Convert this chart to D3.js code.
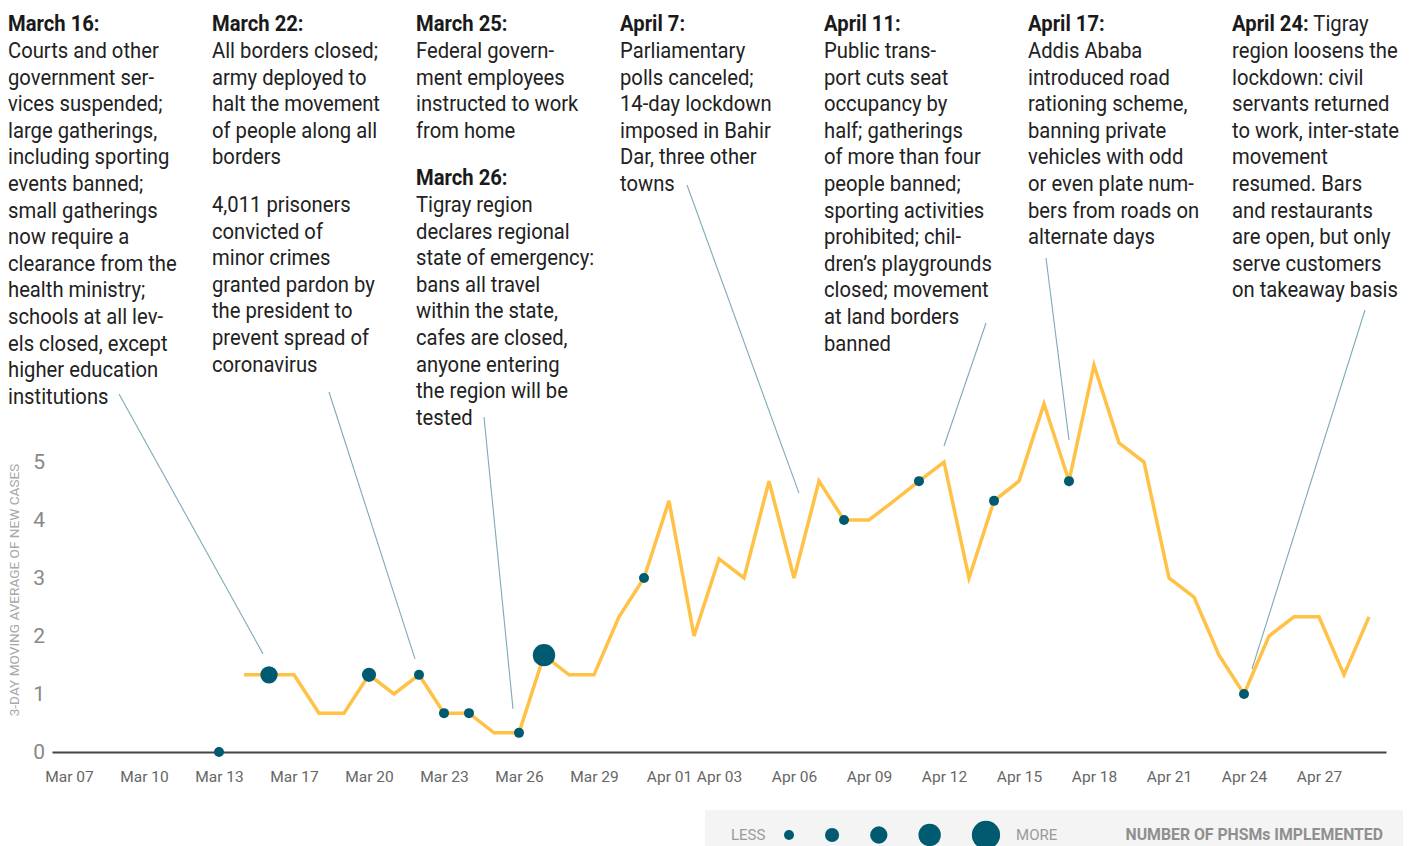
<!DOCTYPE html>
<html>
<head>
<meta charset="utf-8">
<script src="https://cdn.jsdelivr.net/npm/d3@7"></script>
<style>
  html, body { margin: 0; padding: 0; background: #fff; }
  svg { display: block; font-family: Roboto, "Noto Sans", sans-serif; }
</style>
</head>
<body>
<svg id="chart" width="1418" height="846"></svg>
<script>
// ---------------- DATA ----------------
const dates = [
  "Mar 07","Mar 08","Mar 09","Mar 10","Mar 11","Mar 12","Mar 13",
  "Mar 15","Mar 16","Mar 17","Mar 18","Mar 19","Mar 20","Mar 21","Mar 22","Mar 23","Mar 24",
  "Mar 25","Mar 26","Mar 27","Mar 28","Mar 29","Mar 30","Mar 31",
  "Apr 01","Apr 02","Apr 03","Apr 04","Apr 05","Apr 06","Apr 07","Apr 08","Apr 09","Apr 10",
  "Apr 11","Apr 12","Apr 13","Apr 14","Apr 15","Apr 16","Apr 17","Apr 18","Apr 19","Apr 20",
  "Apr 21","Apr 22","Apr 23","Apr 24","Apr 25","Apr 26","Apr 27","Apr 28","Apr 29"
];
const movingAvg = [
  null, null, null, null, null, null, null,
  1.33, 1.33, 1.33, 0.67, 0.67, 1.33, 1.0, 1.33, 0.67, 0.67,
  0.33, 0.33, 1.67, 1.33, 1.33, 2.33, 3.0,
  4.33, 2.0, 3.33, 3.0, 4.67, 3.0, 4.67, 4.0, 4.0, 4.33,
  4.67, 5.0, 3.0, 4.33, 4.67, 6.0, 4.67, 6.67, 5.33, 5.0,
  3.0, 2.67, 1.67, 1.0, 2.0, 2.33, 2.33, 1.33, 2.33
];
const measureDates  = ["Mar 13","Mar 16","Mar 20","Mar 22","Mar 23","Mar 24","Mar 26","Mar 27","Mar 31","Apr 08","Apr 11","Apr 14","Apr 17","Apr 24"];
const measureCounts = [1, 3, 2, 1, 1, 1, 1, 5, 1, 1, 1, 1, 1, 1];
const legendCounts  = [1, 2, 3, 5, 8];
const xTickLabels = ["Mar 07","Mar 10","Mar 13","Mar 17","Mar 20","Mar 23","Mar 26","Mar 29",
  "Apr 01","Apr 03","Apr 06","Apr 09","Apr 12","Apr 15","Apr 18","Apr 21","Apr 24","Apr 27"];
const yTickValues = [0, 1, 2, 3, 4, 5];
const yTitle = "3-DAY MOVING AVERAGE OF NEW CASES";

// annotation texts: each column holds paragraphs {head, lines}
const annotations = [
  { paras: [ { head: "March 16:", lines: ["Courts and other","government ser-","vices suspended;","large gatherings,","including sporting","events banned;","small gatherings","now require a","clearance from the","health ministry;","schools at all lev-","els closed, except","higher education","institutions"] } ] },
  { paras: [ { head: "March 22:", lines: ["All borders closed;","army deployed to","halt the movement","of people along all","borders"] },
             { head: null, lines: ["4,011 prisoners","convicted of","minor crimes","granted pardon by","the president to","prevent spread of","coronavirus"] } ] },
  { paras: [ { head: "March 25:", lines: ["Federal govern-","ment employees","instructed to work","from home"] },
             { head: "March 26:", lines: ["Tigray region","declares regional","state of emergency:","bans all travel","within the state,","cafes are closed,","anyone entering","the region will be","tested"] } ] },
  { paras: [ { head: "April 7:", lines: ["Parliamentary","polls canceled;","14-day lockdown","imposed in Bahir","Dar, three other","towns"] } ] },
  { paras: [ { head: "April 11:", lines: ["Public trans-","port cuts seat","occupancy by","half; gatherings","of more than four","people banned;","sporting activities","prohibited; chil-","dren\u2019s playgrounds","closed; movement","at land borders","banned"] } ] },
  { paras: [ { head: "April 17:", lines: ["Addis Ababa","introduced road","rationing scheme,","banning private","vehicles with odd","or even plate num-","bers from roads on","alternate days"] } ] },
  { paras: [ { head: "April 24:", inline: " Tigray", lines: ["region loosens the","lockdown: civil","servants returned","to work, inter-state","movement","resumed. Bars","and restaurants","are open, but only","serve customers","on takeaway basis"] } ] }
];

// leader lines: anchored on a date/value, top end at the annotation text
const leaders = [
  { date: "Mar 16", dx: -6,  dy: -21, top: [119, 394] },
  { date: "Mar 22", dx: -4,  dy: -16, top: [329, 392] },
  { date: "Mar 26", dx: -6,  dy: -24, top: [484, 417] },
  { date: "Apr 07", dx: -20, dy: 12,  top: [687, 185] },
  { date: "Apr 12", dx: 0,   dy: -16, top: [986, 323] },
  { date: "Apr 17", dx: 0,   dy: -41, top: [1046, 258] },
  { date: "Apr 24", dx: 8,   dy: -25, top: [1365, 310] }
];

// ---------------- LAYOUT ----------------
const svg = d3.select("#chart");
const LINE_COLOR = "#FFC247";
const DOT_COLOR = "#005B70";
const LEADER_COLOR = "#7eaab8";

const x = d3.scalePoint().domain(dates).range([52, 1386]).padding(0.68);
const y = d3.scaleLinear().domain([0, 5]).range([752, 462]);
const r = d3.scaleSqrt().domain([0, 1]).range([0, 5]);

const valueOf = d => movingAvg[dates.indexOf(d)];

// leader lines
svg.append("g").selectAll("line").data(leaders).join("line")
  .attr("x1", d => d.top[0]).attr("y1", d => d.top[1])
  .attr("x2", d => x(d.date) + d.dx).attr("y2", d => y(valueOf(d.date)) + d.dy)
  .attr("stroke", LEADER_COLOR).attr("stroke-width", 1.1);

// annotation text
const colX0 = 8, colStep = 204, lineH = 26.6, paraGap = 21, firstBase = 31.5, hScale = 0.92;
annotations.forEach((a, i) => {
  const g = svg.append("g")
    .attr("transform", `translate(${colX0 + i * colStep},0) scale(${hScale},1)`);
  let base = firstBase;
  a.paras.forEach((p, pi) => {
    if (pi > 0) base += paraGap;
    if (p.head) {
      const t = g.append("text").attr("x", 0).attr("y", base)
        .attr("font-size", 22).attr("fill", "#1a1a1a");
      t.append("tspan").attr("font-weight", 700).text(p.head);
      if (p.inline) t.append("tspan").attr("font-weight", 400).attr("fill", "#222").text(p.inline);
      base += lineH;
    }
    p.lines.forEach(l => {
      g.append("text").attr("x", 0).attr("y", base)
        .attr("font-size", 22).attr("fill", "#222").text(l);
      base += lineH;
    });
  });
});

// x axis
const xAxis = svg.append("g").attr("transform", "translate(0,752)")
  .call(d3.axisBottom(x).tickValues(xTickLabels).tickSize(0).tickSizeOuter(0).tickPadding(19));
xAxis.select(".domain").attr("stroke", "#444").attr("stroke-width", 2);
xAxis.selectAll("text").attr("font-size", 15.5).attr("fill", "#666")
  .attr("font-family", "Roboto, sans-serif");

// y axis
const yAxis = svg.append("g").attr("transform", "translate(52,0)")
  .call(d3.axisLeft(y).tickValues(yTickValues).tickSize(0).tickPadding(7).tickFormat(d3.format("d")));
yAxis.select(".domain").remove();
yAxis.selectAll("text").attr("font-size", 21).attr("fill", "#888")
  .attr("font-weight", 400).attr("font-family", "Roboto, sans-serif");

svg.append("text")
  .attr("transform", "translate(18.5,590) rotate(-90)")
  .attr("text-anchor", "middle")
  .attr("font-size", 13.6).attr("fill", "#a8a8a8")
  .text(yTitle);

// line
const line = d3.line()
  .defined(d => d.v != null)
  .x(d => x(d.date)).y(d => y(d.v));
svg.append("path")
  .datum(dates.map((d, i) => ({ date: d, v: movingAvg[i] })))
  .attr("d", line)
  .attr("fill", "none").attr("stroke", LINE_COLOR)
  .attr("stroke-width", 3.5).attr("stroke-linejoin", "miter");

// PHSM dots
svg.append("g").selectAll("circle")
  .data(measureDates.map((d, i) => ({ date: d, n: measureCounts[i] })))
  .join("circle")
  .attr("cx", d => x(d.date))
  .attr("cy", d => y(valueOf(d.date) ?? 0))
  .attr("r", d => r(d.n))
  .attr("fill", DOT_COLOR);

// legend
const lg = svg.append("g");
lg.append("rect").attr("x", 705).attr("y", 810).attr("width", 698).attr("height", 40).attr("fill", "#f4f4f4");
lg.append("text").attr("x", 731).attr("y", 840).attr("font-size", 15).attr("fill", "#9a9a9a").text("LESS");
let cx = 784;
const legendPos = legendCounts.map((n, i) => {
  const rr = r(n);
  if (i > 0) cx += 31;
  const c = cx + rr;
  cx = c + rr;
  return { n, c };
});
lg.selectAll("circle").data(legendPos).join("circle")
  .attr("cx", d => d.c).attr("cy", 835).attr("r", d => r(d.n)).attr("fill", DOT_COLOR);
lg.append("text").attr("x", cx + 16).attr("y", 840).attr("font-size", 15).attr("fill", "#9a9a9a").text("MORE");
lg.append("text").attr("x", 1383).attr("y", 840).attr("text-anchor", "end")
  .attr("font-size", 15.8).attr("font-weight", 700).attr("fill", "#8f8f8f")
  .text("NUMBER OF PHSMs IMPLEMENTED");
</script>
</body>
</html>
